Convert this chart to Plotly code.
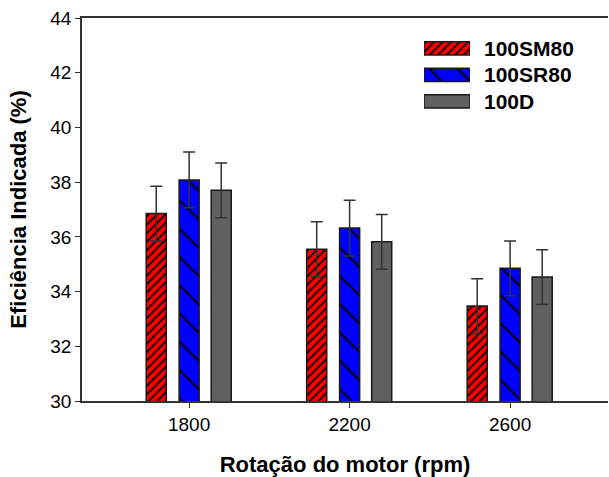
import plotly.graph_objects as go

rotacao = [1800, 2200, 2600]
series_names = ["100SM80", "100SR80", "100D"]
sm80 = [36.85, 35.55, 33.47]
sr80 = [38.08, 36.32, 34.85]
d100 = [37.70, 35.82, 34.53]
sm80_err = [1.0, 1.0, 1.0]
sr80_err = [1.02, 1.02, 1.0]
d100_err = [1.0, 1.0, 1.0]

FONT = "Arial, Liberation Sans, sans-serif"

styles = [
    dict(bg="#FF0000", shape="/", size=6, sol=0.3, offset=-107),
    dict(bg="#0000FF", shape="\\", size=20, sol=0.1, offset=-25),
    dict(bg="#606060", shape="", size=8, sol=0.2, offset=55),
]


def marker_for(st):
    return dict(
        color=st["bg"],
        line=dict(color="#1a1a1a", width=1.5),
        pattern=dict(shape=st["shape"], size=st["size"], solidity=st["sol"],
                     fgcolor="#000000", bgcolor=st["bg"], fillmode="replace"),
    )


fig = go.Figure()
for name, vals, errs, st in zip(series_names, [sm80, sr80, d100],
                                [sm80_err, sr80_err, d100_err], styles):
    fig.add_trace(go.Bar(
        x=rotacao, y=vals, name=name,
        width=50, offset=st["offset"],
        marker=marker_for(st), showlegend=False,
        error_y=dict(type="data", array=errs, visible=True,
                     color="#333333", thickness=1.5, width=6),
    ))

# legend swatches drawn as bars on a small hidden axis pair
for i, (name, st) in enumerate(zip(series_names, styles)):
    fig.add_trace(go.Bar(
        x=[1], y=[i], orientation="h", width=0.5, base=0,
        marker=marker_for(st), showlegend=False, hoverinfo="skip",
        xaxis="x2", yaxis="y2", name=name,
    ))
    fig.add_annotation(
        x=0.7605, xref="paper", xanchor="left",
        y=i, yref="y2", yanchor="middle",
        text=name, showarrow=False,
        font=dict(family=FONT, size=21, color="black", weight="bold"),
    )

fig.update_layout(
    width=609, height=477,
    margin=dict(l=82, r=1, t=18, b=76),
    paper_bgcolor="white", plot_bgcolor="white",
    barmode="overlay",
    font=dict(family=FONT, size=19, color="black"),
    showlegend=False,
    xaxis=dict(
        range=[1533, 2844],
        tickmode="array", tickvals=rotacao, ticktext=[str(v) for v in rotacao],
        ticks="outside", ticklen=5, tickcolor="#333333",
        showline=True, linecolor="#333333", linewidth=1.5, mirror=True,
        showgrid=False, zeroline=False,
        tickfont=dict(size=19),
        title=dict(text="Rotação do motor (rpm)", standoff=23,
                   font=dict(size=22, weight="bold")),
    ),
    yaxis=dict(
        range=[30, 44], dtick=2,
        ticks="outside", ticklen=5, tickcolor="#333333",
        showline=True, linecolor="#333333", linewidth=1.5, mirror=False,
        showgrid=False, zeroline=False,
        tickfont=dict(size=19),
        title=dict(text="Eficiência Indicada (%)", standoff=18,
                   font=dict(size=22, weight="bold")),
    ),
    xaxis2=dict(domain=[0.6502, 0.7376], range=[0, 1], anchor="y2",
                visible=False, fixedrange=True),
    yaxis2=dict(domain=[0.7474, 0.955], range=[2.5, -0.5], anchor="x2",
                visible=False, fixedrange=True),
)

fig.write_html("out.html")
